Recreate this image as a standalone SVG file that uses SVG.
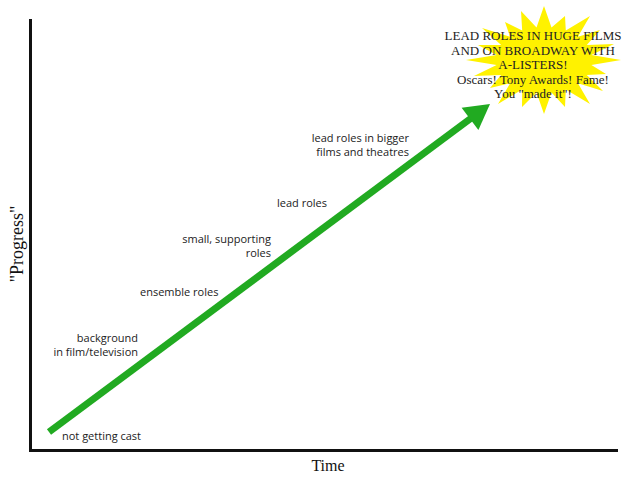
<svg xmlns="http://www.w3.org/2000/svg" width="640" height="480" viewBox="0 0 640 480">
<style>
.lbl{font-family:"Open Sans","DejaVu Sans",sans-serif;font-size:11px;fill:#222}
.r{text-anchor:end}
.ax{font-family:"Liberation Serif","Times New Roman",serif;fill:#111}
.star{font-family:"Liberation Serif","Times New Roman",serif;font-size:13px;fill:#222;text-anchor:middle}
</style>
<rect width="640" height="480" fill="#fff"/>
<g id="axes">
<path d="M30.5 19 V450.5 H618" fill="none" stroke="#111" stroke-width="3"/>
<text class="ax" x="328" y="471" font-size="16" text-anchor="middle">Time</text>
<text class="ax" font-size="18" text-anchor="middle" transform="translate(23 244) rotate(-90)">"Progress"</text>
</g>
<g id="burst">
<polygon fill="#fff200" points="544,6 551.5,27.4 565,16 565.8,30.6 590,16 577.9,36.7 600,30 586.8,45 614,44 591.4,54.9 621,60 591.4,65.1 606,74 586.8,75 603,91 577.9,83.3 590,104 565.8,89.4 565,107 551.5,92.6 544,114 536.5,92.6 522,107 522.2,89.4 498,104 510.1,83.3 490,88 501.2,75 474,76 496.6,65.1 466,60 496.6,54.9 478,45 501.2,45 482,28 510.1,36.7 505,22 522.2,30.6 521,11 536.5,27.4"/>
<text class="star" x="533" y="40">LEAD ROLES IN HUGE FILMS</text>
<text class="star" x="533" y="55">AND ON BROADWAY WITH</text>
<text class="star" x="533" y="69">A-LISTERS!</text>
<text class="star" x="533" y="84">Oscars! Tony Awards! Fame!</text>
<text class="star" x="533" y="98">You "made it"!</text>
</g>
<g id="connectors">
<line x1="49" y1="432" x2="472" y2="117.5" stroke="#21aa21" stroke-width="7"/>
<polygon points="490,104 478.4,130.1 461.6,107.7" fill="#21aa21"/>
</g>
<g id="labels">
<text class="lbl" x="62" y="440">not getting cast</text>
<text class="lbl r" x="138" y="342">background</text>
<text class="lbl r" x="138" y="356">in film/television</text>
<text class="lbl" x="140" y="296">ensemble roles</text>
<text class="lbl r" x="271" y="243">small, supporting</text>
<text class="lbl r" x="271" y="257">roles</text>
<text class="lbl" x="277" y="207">lead roles</text>
<text class="lbl r" x="409" y="142">lead roles in bigger</text>
<text class="lbl r" x="409" y="156">films and theatres</text>
</g>
</svg>
